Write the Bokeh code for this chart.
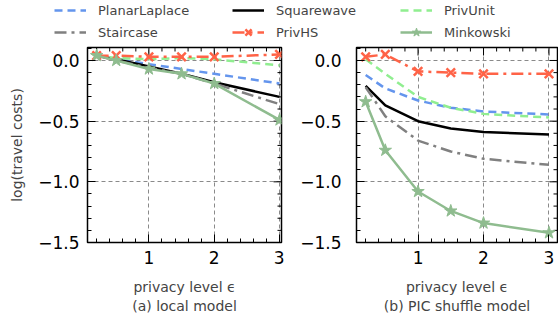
import math
from bokeh.plotting import figure
from bokeh.layouts import column, row
from bokeh.models import (Legend, LegendItem, SingleIntervalTicker, FixedTicker,
                          CustomJSTickFormatter, LinearAxis, Range1d)
from bokeh.embed import file_html
from bokeh.resources import INLINE

# ---------------- data ----------------
eps = [0.2, 0.5, 1.0, 1.5, 2.0, 3.0]

local_planarlaplace = [0.04, 0.01, -0.03, -0.07, -0.11, -0.19]
local_squarewave = [0.04, 0.01, -0.05, -0.11, -0.18, -0.30]
local_privunit = [0.04, 0.02, 0.01, 0.02, 0.01, -0.04]
local_staircase = [0.04, 0.00, -0.06, -0.11, -0.19, -0.36]
local_privhs = [0.04, 0.04, 0.03, 0.03, 0.03, 0.05]
local_minkowski = [0.04, 0.00, -0.07, -0.11, -0.19, -0.49]

shuffle_planarlaplace = [-0.12, -0.23, -0.33, -0.39, -0.42, -0.445]
shuffle_squarewave = [-0.21, -0.37, -0.50, -0.56, -0.59, -0.61]
shuffle_privunit = [0.01, -0.11, -0.30, -0.39, -0.44, -0.47]
shuffle_staircase = [-0.22, -0.46, -0.66, -0.75, -0.81, -0.86]
shuffle_privhs = [0.03, 0.05, -0.09, -0.10, -0.11, -0.11]
shuffle_minkowski = [-0.34, -0.74, -1.08, -1.24, -1.34, -1.42]

series_names = ["PlanarLaplace", "Squarewave", "PrivUnit", "Staircase", "PrivHS", "Minkowski"]
local_data = [local_planarlaplace, local_squarewave, local_privunit,
              local_staircase, local_privhs, local_minkowski]
shuffle_data = [shuffle_planarlaplace, shuffle_squarewave, shuffle_privunit,
                shuffle_staircase, shuffle_privhs, shuffle_minkowski]

captions = ["(a) local model", "(b) PIC shuffle model"]
x_label = "privacy level \u03f5"
y_label = "log(travel costs)"

# tick positions for the mirrored (top / right) tick marks
x_major_ticks = [1, 2, 3]
x_minor_ticks = [round(0.2 * i, 1) for i in range(1, 16) if i % 5]
y_major_ticks = [0.0, -0.5, -1.0, -1.5]
y_minor_ticks = [round(-0.1 * i, 1) for i in range(1, 15) if i % 5]

# ---------------- styles ----------------
FONT = "DejaVu Sans"
STY = {
    "PlanarLaplace": dict(color="#6495ED", dash="8 5", marker=None),
    "Squarewave": dict(color="#000000", dash="solid", marker=None),
    "PrivUnit": dict(color="#90EE90", dash="8 5", marker=None),
    "Staircase": dict(color="#808080", dash="12 5 3 5", marker=None),
    "PrivHS": dict(color="#FF6347", dash="12 5 3 5", marker="x"),
    "Minkowski": dict(color="#8FBC8F", dash="solid", marker="star"),
}
LW = 2.5


def style_axis(ax):
    ax.major_tick_in = 8
    ax.major_tick_out = 0
    ax.minor_tick_in = 4
    ax.minor_tick_out = 0
    ax.major_tick_line_color = "black"
    ax.minor_tick_line_color = "black"
    ax.axis_line_color = "black"
    ax.major_label_text_font = FONT
    ax.major_label_text_font_size = "17px"
    ax.major_label_text_color = "black"


def mirrored_ticks(p, xr, yr):
    # inward tick marks on the top and right sides; rays pointing out of the
    # frame are clipped away, so both directions are drawn
    for xs, ln in ((x_major_ticks, 8), (x_minor_ticks, 4)):
        xs = [v for v in xs if xr.start <= v <= xr.end]
        for ang in (math.pi / 2, -math.pi / 2):
            p.ray(x=xs, y=[yr.end] * len(xs), length=ln, length_units="screen",
                  angle=ang, line_color="black", line_width=1)
    for ys, ln in ((y_major_ticks, 8), (y_minor_ticks, 4)):
        for ang in (0, math.pi):
            p.ray(x=[xr.end] * len(ys), y=ys, length=ln, length_units="screen",
                  angle=ang, line_color="black", line_width=1)


def panel(data, caption, frame_w, border_left, border_right, xr_end, ylab_standoff, with_ylabel):
    xr = Range1d(0.06, xr_end)
    yr = Range1d(-1.5, 0.107)
    p = figure(frame_width=frame_w, frame_height=195, x_range=xr, y_range=yr,
               output_backend="svg", toolbar_location=None,
               min_border_left=border_left, min_border_right=border_right,
               min_border_top=2, min_border_bottom=0)
    p.outline_line_color = "black"
    p.outline_line_width = 1.5

    xt = SingleIntervalTicker(interval=1, num_minor_ticks=5)
    yt = SingleIntervalTicker(interval=0.5, num_minor_ticks=5)
    fmt = CustomJSTickFormatter(
        code="return (tick < -1e-9 ? '\\u2212' : '') + Math.abs(tick).toFixed(1);")

    xa = p.xaxis[0]
    ya = p.yaxis[0]
    xa.ticker = xt
    ya.ticker = yt
    ya.formatter = fmt
    style_axis(xa)
    style_axis(ya)
    xa.major_label_standoff = 8
    ya.major_label_standoff = ylab_standoff
    xa.axis_label = x_label
    xa.axis_label_text_font = FONT
    xa.axis_label_text_font_size = "14px"
    xa.axis_label_text_font_style = "normal"
    xa.axis_label_standoff = 12
    if with_ylabel:
        ya.axis_label = y_label
        ya.axis_label_text_font = FONT
        ya.axis_label_text_font_size = "14px"
        ya.axis_label_text_font_style = "normal"
        ya.axis_label_standoff = 10

    # sub-caption as the label of a tick-less second bottom axis
    cap = LinearAxis(ticker=FixedTicker(ticks=[]), axis_label=caption,
                     axis_line_color=None, major_tick_line_color=None,
                     minor_tick_line_color=None, axis_label_standoff=0,
                     axis_label_text_font=FONT, axis_label_text_font_size="14px",
                     axis_label_text_font_style="normal")
    p.add_layout(cap, "below")

    for g, tk in ((p.xgrid, xt), (p.ygrid, yt)):
        g.ticker = tk
        g.grid_line_color = "#8a8a8a"
        g.grid_line_dash = "4 3"
        g.grid_line_width = 1

    mirrored_ticks(p, xr, yr)

    for name, ys in zip(series_names, data):
        s = STY[name]
        p.line(eps, ys, line_color=s["color"], line_width=LW, line_dash=s["dash"])
        if s["marker"] == "x":
            p.scatter(eps, ys, marker="x", size=12, line_color=s["color"], line_width=2.5)
        elif s["marker"] == "star":
            p.scatter(eps, ys, marker="star", size=13, line_color=s["color"],
                      fill_color=s["color"], line_width=1)
    return p


p1 = panel(local_data, captions[0], 194, 87, 3, 3.03, 8, True)
p2 = panel(shuffle_data, captions[1], 201, 72, 1, 3.13, 15, False)

# ---------------- legend strip ----------------
# legend renderers reuse the real series, kept outside this strip's visible range
lg = figure(width=558, height=45, x_range=Range1d(0, 1), y_range=Range1d(10, 11),
            output_backend="svg", toolbar_location=None, min_border=0,
            x_axis_type=None, y_axis_type=None)
lg.outline_line_color = None
lg.grid.visible = False

rends = {}
for name, ys in zip(series_names, local_data):
    s = STY[name]
    r = [lg.line(eps, ys, line_color=s["color"], line_width=LW, line_dash=s["dash"])]
    if s["marker"] == "x":
        r.append(lg.scatter(eps, ys, marker="x", line_color=s["color"], line_width=2.5))
    elif s["marker"] == "star":
        r.append(lg.scatter(eps, ys, marker="star", line_color=s["color"],
                            fill_color=s["color"]))
    rends[name] = r

cols = [["PlanarLaplace", "Staircase"], ["Squarewave", "PrivHS"], ["PrivUnit", "Minkowski"]]
col_x = [54, 232, 400]
for names, cx in zip(cols, col_x):
    leg = Legend(items=[LegendItem(label=n, renderers=rends[n]) for n in names],
                 location=(cx, 2), orientation="vertical",
                 glyph_width=32, glyph_height=22, label_height=22, label_standoff=12,
                 spacing=0, padding=0, margin=0, border_line_color=None,
                 background_fill_alpha=0, label_text_font=FONT,
                 label_text_font_size="13px")
    lg.add_layout(leg, "center")

layout = column(lg, row(p1, p2, spacing=0), spacing=0)

open("out.html", "w").write(file_html(layout, INLINE))
